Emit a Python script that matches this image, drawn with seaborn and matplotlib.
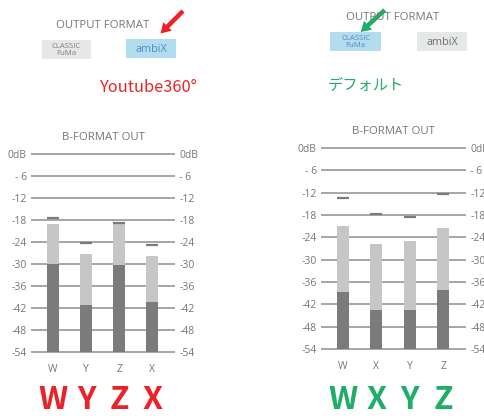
import matplotlib

matplotlib.use("Agg")
import matplotlib.pyplot as plt
import pandas as pd
import seaborn as sns
from matplotlib.patches import FancyArrow, Rectangle
from matplotlib.transforms import blended_transform_factory

# ── Data ──────────────────────────────────────────────────────────
DB_TICKS = [0, -6, -12, -18, -24, -30, -36, -42, -48, -54]
DB_LABELS = ["0dB", "- 6", "-12", "-18", "-24", "-30", "-36", "-42", "-48", "-54"]
FLOOR_DB = -54

ambix_channels = ["W", "Y", "Z", "X"]
ambix_level = [-19.2, -27.2, -19.1, -27.9]
ambix_low = [-30.0, -41.3, -30.3, -40.5]
ambix_peak = [-17.3, -24.3, -18.8, -24.9]

fuma_channels = ["W", "X", "Y", "Z"]
fuma_level = [-21.0, -25.8, -24.9, -21.6]
fuma_low = [-38.7, -43.5, -43.5, -38.1]
fuma_peak = [-13.4, -17.8, -18.4, -12.3]

# ── Style ─────────────────────────────────────────────────────────
W_PX, H_PX = 484, 416
LIGHT = "#c6c6c6"
DARK = "#7a7b7a"
GRID = "#8e8e8e"
LABEL = "#757575"
RED = "#ec2229"
GREEN = "#1fae68"
BOX_GREY = "#e6e7e7"
BOX_BLUE = "#b3dcf1"
BLUE_TEXT = "#4f8dc0"
BIG_FONT = ["Noto Sans CJK JP", "DejaVu Sans"]

sns.set_theme(style="white")
plt.rcParams["font.family"] = ["Open Sans", "DejaVu Sans"]


def px_rect(left, top, right, bottom):
    return [left / W_PX, 1 - bottom / H_PX, (right - left) / W_PX, (bottom - top) / H_PX]


def draw_meter(ax, channels, level, low, peak, letter_color):
    df = pd.DataFrame(
        {
            "channel": channels,
            "level": [v - FLOOR_DB for v in level],
            "low": [v - FLOOR_DB for v in low],
            "peak": peak,
        }
    )
    bar_kws = dict(x="channel", order=channels, saturation=1, width=0.36,
                   bottom=FLOOR_DB, errorbar=None, edgecolor="none", linewidth=0, ax=ax)
    sns.barplot(data=df, y="level", color=LIGHT, zorder=2, **bar_kws)
    sns.barplot(data=df, y="low", color=DARK, zorder=3, **bar_kws)
    sns.stripplot(data=df, x="channel", y="peak", order=channels, jitter=False,
                  marker="_", size=8.8, linewidth=1.6, color=DARK, zorder=4, ax=ax)

    ax.set_ylim(-55, 1)
    ax.set_xlim(-0.66, 3.68)
    ax.set_yticks(DB_TICKS, DB_LABELS)
    ax.set_xlabel("")
    ax.set_ylabel("")
    ax.grid(axis="y", color=GRID, linewidth=1.1)
    ax.grid(axis="x", visible=False)
    ax.set_axisbelow(True)
    ax.yaxis.set_zorder(0.5)
    for patch in ax.patches:
        patch.set_zorder(3 if patch.get_facecolor()[0] < 0.6 else 2)
    sns.despine(ax=ax, left=True, bottom=True)
    ax.tick_params(axis="y", length=0, pad=3, labelsize=7.5, labelcolor=LABEL,
                   labelleft=True, labelright=True)
    ax.tick_params(axis="x", length=0, pad=6, labelsize=7.5, labelcolor=LABEL)

    # big coloured channel letters under the meter
    trans = blended_transform_factory(ax.transData, ax.figure.transFigure)
    for i, ch in enumerate(channels):
        ax.text(i, 1 - 409 / H_PX, ch, transform=trans, ha="center", va="baseline",
                fontsize=23, fontweight="bold", color=letter_color, family=BIG_FONT,
                clip_on=False)


fig = plt.figure(figsize=(W_PX / 100, H_PX / 100), dpi=100)

# overlay in pixel coordinates for the UI decorations
deco = fig.add_axes([0, 0, 1, 1])
deco.set_xlim(0, W_PX)
deco.set_ylim(H_PX, 0)
deco.axis("off")

ax_left = fig.add_axes(px_rect(31, 150.65, 175, 355.35))
draw_meter(ax_left, ambix_channels, ambix_level, ambix_low, ambix_peak, RED)

ax_right = fig.add_axes(px_rect(321, 144.4, 466, 352.7))
draw_meter(ax_right, fuma_channels, fuma_level, fuma_low, fuma_peak, GREEN)


# ── Output format selectors ───────────────────────────────────────
def button(x0, y0, x1, y1, face, text, color, size):
    deco.add_patch(Rectangle((x0, y0), x1 - x0, y1 - y0, facecolor=face, edgecolor="none"))
    deco.text((x0 + x1) / 2, (y0 + y1) / 2 + 0.5, text, ha="center", va="center",
              fontsize=size, color=color, linespacing=0.9)


deco.text(102.5, 28.3, "OUTPUT FORMAT", ha="center", va="baseline", fontsize=8.2, color=LABEL)
button(41.7, 40, 91, 59, BOX_GREY, "CLASSIC\nFuMa", "#7f7f7f", 5.6)
button(126, 39.3, 176, 58.3, BOX_BLUE, "ambiX", BLUE_TEXT, 7.8)
deco.add_patch(FancyArrow(183, 11, -22.5, 22.5, width=4.5, head_width=12, head_length=10,
                          length_includes_head=True, color=RED, linewidth=0))
deco.text(100, 92, "Youtube360°", ha="left", va="baseline", fontsize=11.8, color=RED,
          family=BIG_FONT)

deco.text(392.5, 20, "OUTPUT FORMAT", ha="center", va="baseline", fontsize=8.2, color=LABEL)
button(330.3, 31.7, 381, 51, BOX_BLUE, "CLASSIC\nFuMa", BLUE_TEXT, 5.6)
button(417, 32.3, 467, 51, BOX_GREY, "ambiX", "#707070", 7.8)
deco.add_patch(FancyArrow(384.7, 10, -24, 22, width=4.5, head_width=12, head_length=10,
                          length_includes_head=True, color=GREEN, linewidth=0))
deco.text(328, 85, "デフォルト", ha="left", va="center", fontsize=11, color=GREEN,
          family=["Noto Sans CJK JP", "DejaVu Sans"])

deco.text(103, 140.5, "B-FORMAT OUT", ha="center", va="baseline", fontsize=8.2, color=LABEL)
deco.text(393.5, 134.3, "B-FORMAT OUT", ha="center", va="baseline", fontsize=8.2, color=LABEL)

fig.savefig("out.png", dpi=100)
